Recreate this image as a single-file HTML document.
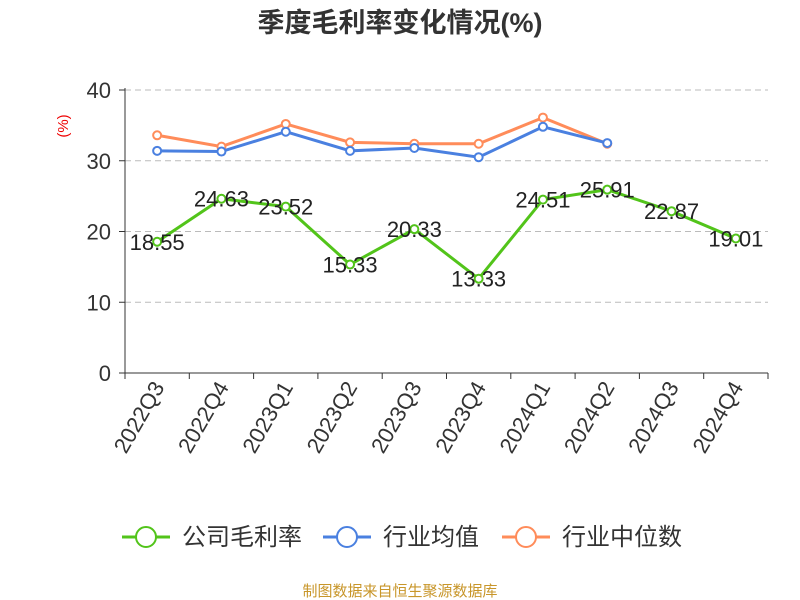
<!DOCTYPE html>
<html><head><meta charset="utf-8">
<style>
body{margin:0;background:#fff;}
svg{display:block;font-family:"Liberation Sans","Noto Sans CJK SC",sans-serif;}
</style></head>
<body>
<svg id="chart" width="800" height="600" viewBox="0 0 800 600">
<text x="400" y="32" text-anchor="middle" font-size="27" font-weight="bold" fill="#333">季度毛利率变化情况(%)</text>
<text x="0" y="0" transform="translate(68,126) rotate(-90)" text-anchor="middle" font-size="15" fill="#e00">(%)</text>
<g id="grid"></g><g id="axes"></g><g id="series"></g>
<g id="legend" font-size="24" fill="#333">
<g><line x1="122" y1="537" x2="170" y2="537" stroke="#52c41a" stroke-width="3"/><circle cx="146" cy="537" r="10" fill="#fff" stroke="#52c41a" stroke-width="2"/><text x="182" y="545">公司毛利率</text></g>
<g><line x1="323" y1="537" x2="371" y2="537" stroke="#4a80e0" stroke-width="3"/><circle cx="347" cy="537" r="10" fill="#fff" stroke="#4a80e0" stroke-width="2"/><text x="383" y="545">行业均值</text></g>
<g><line x1="502" y1="537" x2="550" y2="537" stroke="#ff8c5a" stroke-width="3"/><circle cx="526" cy="537" r="10" fill="#fff" stroke="#ff8c5a" stroke-width="2"/><text x="562" y="545">行业中位数</text></g>
</g>
<text x="400" y="596" text-anchor="middle" font-size="15" fill="#c8962a">制图数据来自恒生聚源数据库</text>
</svg>
<script>
const categories=["2022Q3","2022Q4","2023Q1","2023Q2","2023Q3","2023Q4","2024Q1","2024Q2","2024Q3","2024Q4"];
const companyMargin=[18.55,24.63,23.52,15.33,20.33,13.33,24.51,25.91,22.87,19.01];
const industryAvg=[31.4,31.3,34.1,31.4,31.8,30.5,34.8,32.5];
const industryMedian=[33.6,32.0,35.2,32.6,32.4,32.4,36.1,32.4];
const yTicks=[0,10,20,30,40];
const NS="http://www.w3.org/2000/svg";
const X0=125,X1=768,Y0=373,Y1=90,YMAX=40;
const bw=(X1-X0)/categories.length;
const xs=i=>X0+bw*(i+0.5);
const ys=v=>Y0-(v/YMAX)*(Y0-Y1);
function mk(tag,attrs,parent,txt){const e=document.createElementNS(NS,tag);for(const k in attrs)e.setAttribute(k,attrs[k]);if(txt!==undefined)e.textContent=txt;parent.appendChild(e);return e;}
const grid=document.getElementById('grid'),axes=document.getElementById('axes'),ser=document.getElementById('series');
yTicks.forEach(t=>{
 if(t>0){const g=mk('line',{x1:X0,x2:X1,y1:ys(t),y2:ys(t),stroke:'#bbb','stroke-dasharray':'6,4'},grid);
 
 }
 const tk=mk('line',{x1:X0-6,x2:X0,y1:ys(t),y2:ys(t),stroke:'#333'},axes);
 
 
 const l=mk('text',{x:X0-14,y:ys(t)+8,'text-anchor':'end','font-size':22,fill:'#333'},axes,String(t));
 
 
});
const ya=mk('line',{x1:X0,x2:X0,y1:Y1-2,y2:Y0,stroke:'#333'},axes);


const xa=mk('line',{x1:X0,x2:X1,y1:Y0,y2:Y0,stroke:'#333'},axes);


for(let i=0;i<=categories.length;i++){const t=mk('line',{x1:X0+bw*i,x2:X0+bw*i,y1:Y0,y2:Y0+6,stroke:'#333'},axes);
 
 }
categories.forEach((c,i)=>{
 const t=mk('text',{x:0,y:0,transform:`translate(${xs(i)+8},${Y0+14}) rotate(-60)`,'text-anchor':'end','font-size':22,fill:'#333'},axes,c);
 
 
});
function series(vals,color,name,labels){
 const pts=vals.map((v,i)=>xs(i)+','+ys(v)).join(' ');
 const pl=mk('polyline',{points:pts,fill:'none',stroke:color,'stroke-width':3},ser);
 
 
 vals.forEach((v,i)=>{
  const c=mk('circle',{cx:xs(i),cy:ys(v),r:4,fill:'#fff',stroke:color,'stroke-width':2},ser);
  
  
  if(labels){
   const t=mk('text',{x:xs(i),y:ys(v)+8,'text-anchor':'middle','font-size':22,fill:'#222'},ser,v.toFixed(2));
   
   
  }
 });
}
series(industryMedian,'#ff8c5a','industry-median',false);
series(industryAvg,'#4a80e0','industry-average',false);
series(companyMargin,'#52c41a','company-margin',true);
</script>
</body></html>
